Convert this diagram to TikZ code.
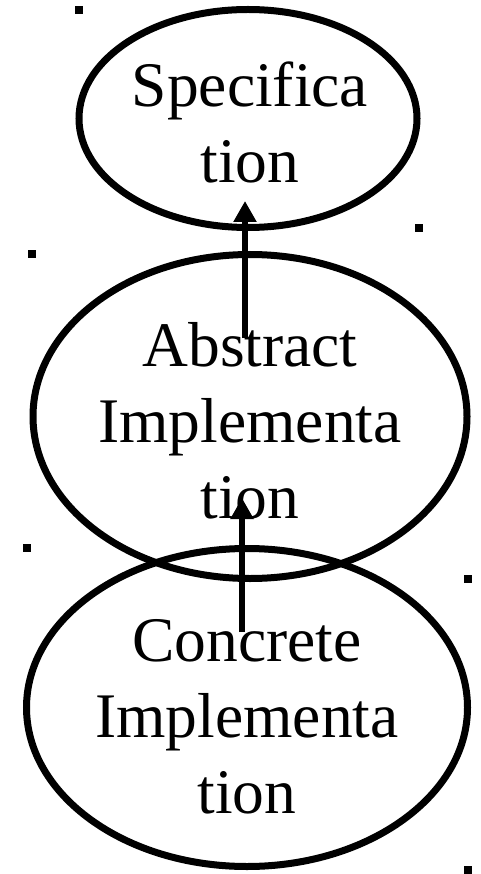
\documentclass[tikz,border=0pt]{standalone}
\usepackage{fontspec}
\setmainfont{Liberation Serif}
\usetikzlibrary{shapes.geometric,arrows.meta}
\tikzset{
  oval/.style={ellipse, draw=black, line width=7pt, inner sep=0pt},
  lbl/.style={anchor=base, align=center, inner sep=0pt, font=\fontsize{63.5}{76}\selectfont},
  uparrow/.style={line width=6.5pt, -{Triangle[width=22pt,length=21pt]}},
  speck/.style={fill=black, minimum size=8pt, inner sep=0pt, rectangle}
}
\begin{document}
\begin{tikzpicture}[x=1pt,y=-1pt]
\useasboundingbox (0,0) rectangle (480,874);
% ellipses
\node[oval, minimum width=338pt, minimum height=218pt] (spec) at (248,118.5) {};
\node[oval, minimum width=434pt, minimum height=324pt] (abs) at (250,416.5) {};
\node[oval, minimum width=441pt, minimum height=318pt] (conc) at (247,707.5) {};
% labels (base anchor = baseline of the last line)
\node[lbl] (spect) at (250,183) {Specifica\\tion};
\node[lbl] (abst) at (250,518) {Abstract\\Implementa\\tion};
\node[lbl] (conct) at (247,813) {Concrete\\Implementa\\tion};
% specks
\node[speck] (d1) at (79,10) {};
\node[speck] (d2) at (419,228) {};
\node[speck] (d3) at (32,254) {};
\node[speck] (d4) at (27,548) {};
\node[speck] (d5) at (468,579) {};
\node[speck] (d6) at (468,870) {};
% connectors
\coordinate (a1s) at (245,338);
\coordinate (a1e) at (245,201);
\coordinate (a2s) at (242,632);
\coordinate (a2e) at (242,498);
\draw[uparrow] (a1s) -- (a1e);
\draw[uparrow] (a2s) -- (a2e);
\end{tikzpicture}
\end{document}
